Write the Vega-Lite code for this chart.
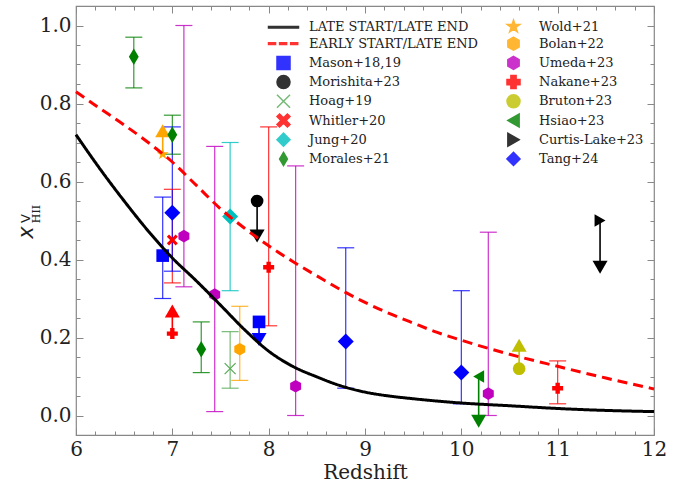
{
  "$schema": "https://vega.github.io/schema/vega-lite/v6.json",
  "width": 578,
  "height": 429,
  "autosize": {"type": "none"},
  "padding": {"left": 76, "top": 6, "right": 26, "bottom": 48},
  "background": "white",
  "config": {
    "view": {"stroke": "#888888", "strokeWidth": 1.2},
    "axis": {"grid": false, "domain": false, "tickColor": "#888888", "tickWidth": 1, "labelFont": "DejaVu Serif", "labelFontSize": 20, "labelColor": "#222222", "titleFont": "DejaVu Serif", "titleFontSize": 20, "titleColor": "#222222", "titleFontWeight": "normal", "labelFlush": false, "labelOverlap": false}
  },
  "datasets": {
    "curves": [
      {"series": "LATE START/LATE END", "z": 6.0, "xHII": 0.72},
      {"series": "LATE START/LATE END", "z": 6.25, "xHII": 0.632},
      {"series": "LATE START/LATE END", "z": 6.5, "xHII": 0.55},
      {"series": "LATE START/LATE END", "z": 6.75, "xHII": 0.473},
      {"series": "LATE START/LATE END", "z": 7.0, "xHII": 0.404},
      {"series": "LATE START/LATE END", "z": 7.25, "xHII": 0.345},
      {"series": "LATE START/LATE END", "z": 7.5, "xHII": 0.283},
      {"series": "LATE START/LATE END", "z": 7.75, "xHII": 0.22},
      {"series": "LATE START/LATE END", "z": 8.0, "xHII": 0.165},
      {"series": "LATE START/LATE END", "z": 8.25, "xHII": 0.126},
      {"series": "LATE START/LATE END", "z": 8.5, "xHII": 0.099},
      {"series": "LATE START/LATE END", "z": 8.75, "xHII": 0.076},
      {"series": "LATE START/LATE END", "z": 9.0, "xHII": 0.06},
      {"series": "LATE START/LATE END", "z": 9.25, "xHII": 0.05},
      {"series": "LATE START/LATE END", "z": 9.5, "xHII": 0.043},
      {"series": "LATE START/LATE END", "z": 9.75, "xHII": 0.037},
      {"series": "LATE START/LATE END", "z": 10.0, "xHII": 0.032},
      {"series": "LATE START/LATE END", "z": 10.5, "xHII": 0.025},
      {"series": "LATE START/LATE END", "z": 11.0, "xHII": 0.018},
      {"series": "LATE START/LATE END", "z": 11.5, "xHII": 0.013},
      {"series": "LATE START/LATE END", "z": 12.0, "xHII": 0.01},
      {"series": "EARLY START/LATE END", "z": 6.0, "xHII": 0.83},
      {"series": "EARLY START/LATE END", "z": 6.25, "xHII": 0.787},
      {"series": "EARLY START/LATE END", "z": 6.5, "xHII": 0.745},
      {"series": "EARLY START/LATE END", "z": 6.75, "xHII": 0.7},
      {"series": "EARLY START/LATE END", "z": 7.0, "xHII": 0.65},
      {"series": "EARLY START/LATE END", "z": 7.25, "xHII": 0.59},
      {"series": "EARLY START/LATE END", "z": 7.5, "xHII": 0.53},
      {"series": "EARLY START/LATE END", "z": 7.75, "xHII": 0.48},
      {"series": "EARLY START/LATE END", "z": 8.0, "xHII": 0.435},
      {"series": "EARLY START/LATE END", "z": 8.25, "xHII": 0.395},
      {"series": "EARLY START/LATE END", "z": 8.5, "xHII": 0.358},
      {"series": "EARLY START/LATE END", "z": 8.75, "xHII": 0.322},
      {"series": "EARLY START/LATE END", "z": 9.0, "xHII": 0.29},
      {"series": "EARLY START/LATE END", "z": 9.25, "xHII": 0.262},
      {"series": "EARLY START/LATE END", "z": 9.5, "xHII": 0.237},
      {"series": "EARLY START/LATE END", "z": 9.75, "xHII": 0.213},
      {"series": "EARLY START/LATE END", "z": 10.0, "xHII": 0.193},
      {"series": "EARLY START/LATE END", "z": 10.5, "xHII": 0.157},
      {"series": "EARLY START/LATE END", "z": 11.0, "xHII": 0.126},
      {"series": "EARLY START/LATE END", "z": 11.5, "xHII": 0.096},
      {"series": "EARLY START/LATE END", "z": 12.0, "xHII": 0.068}
    ],
    "obs": [
      {"series": "Mason+18,19", "z": 6.9, "xHII": 0.41, "lo": 0.30, "hi": 0.56, "tip": null},
      {"series": "Mason+18,19", "z": 7.9, "xHII": 0.24, "lo": null, "hi": null, "tip": 0.195},
      {"series": "Morishita+23", "z": 7.88, "xHII": 0.55, "lo": null, "hi": null, "tip": 0.46},
      {"series": "Hoag+19", "z": 7.6, "xHII": 0.12, "lo": 0.07, "hi": 0.215, "tip": null},
      {"series": "Whitler+20", "z": 7.0, "xHII": 0.45, "lo": 0.34, "hi": 0.58, "tip": null},
      {"series": "Jung+20", "z": 7.6, "xHII": 0.51, "lo": 0.32, "hi": 0.70, "tip": null},
      {"series": "Morales+21", "z": 6.6, "xHII": 0.92, "lo": 0.84, "hi": 0.97, "tip": null},
      {"series": "Morales+21", "z": 7.0, "xHII": 0.72, "lo": 0.67, "hi": 0.77, "tip": null},
      {"series": "Morales+21", "z": 7.3, "xHII": 0.17, "lo": 0.11, "hi": 0.24, "tip": null},
      {"series": "Wold+21", "z": 6.9, "xHII": 0.67, "lo": null, "hi": null, "tip": 0.73},
      {"series": "Bolan+22", "z": 7.7, "xHII": 0.17, "lo": 0.09, "hi": 0.28, "tip": null},
      {"series": "Umeda+23", "z": 7.12, "xHII": 0.46, "lo": 0.33, "hi": 1.0, "tip": null},
      {"series": "Umeda+23", "z": 7.44, "xHII": 0.31, "lo": 0.01, "hi": 0.69, "tip": null},
      {"series": "Umeda+23", "z": 8.28, "xHII": 0.075, "lo": 0.0, "hi": 0.64, "tip": null},
      {"series": "Umeda+23", "z": 10.28, "xHII": 0.056, "lo": 0.0, "hi": 0.47, "tip": null},
      {"series": "Nakane+23", "z": 7.0, "xHII": 0.21, "lo": null, "hi": null, "tip": 0.268},
      {"series": "Nakane+23", "z": 8.0, "xHII": 0.38, "lo": 0.23, "hi": 0.74, "tip": null},
      {"series": "Nakane+23", "z": 11.0, "xHII": 0.07, "lo": 0.03, "hi": 0.14, "tip": null},
      {"series": "Bruton+23", "z": 10.6, "xHII": 0.12, "lo": null, "hi": null, "tip": 0.18},
      {"series": "Hsiao+23", "z": 10.18, "xHII": 0.10, "lo": null, "hi": null, "tip": -0.015},
      {"series": "Curtis-Lake+23", "z": 11.44, "xHII": 0.50, "lo": null, "hi": null, "tip": 0.38},
      {"series": "Tang+24", "z": 7.0, "xHII": 0.52, "lo": 0.37, "hi": 0.74, "tip": null},
      {"series": "Tang+24", "z": 8.8, "xHII": 0.19, "lo": 0.07, "hi": 0.43, "tip": null},
      {"series": "Tang+24", "z": 10.0, "xHII": 0.11, "lo": 0.03, "hi": 0.32, "tip": null}
    ]
  },
  "resolve": {"axis": {"x": "independent", "y": "independent"}},
  "layer": [
    {
      "data": {"name": "obs"},
      "transform": [{"filter": "datum.hi != null"}],
      "mark": {"type": "rule", "strokeWidth": 1.2, "opacity": 0.8},
      "encoding": {
        "x": {"field": "z", "type": "quantitative", "scale": {"domain": [6, 12], "nice": false, "zero": false},
              "axis": {"orient": "bottom", "values": [6, 7, 8, 9, 10, 11, 12], "format": "d", "tickSize": -7, "labelPadding": 11, "title": "Redshift", "titleFontSize": 20, "titleBaseline": "alphabetic", "titleY": 43}},
        "y": {"field": "lo", "type": "quantitative", "scale": {"domain": [-0.05, 1.05], "nice": false, "zero": false},
              "axis": {"orient": "left", "values": [0, 0.2, 0.4, 0.6, 0.8, 1.0], "format": ".1f", "tickSize": -7, "labelPadding": 12,
                       "title": "x", "titleFont": "DejaVu Sans", "titleFontStyle": "italic", "titleFontSize": 21, "titleX": -49.5, "titleY": 226, "titleAngle": -90, "titleAlign": "center", "titleBaseline": "middle"}},
        "y2": {"field": "hi"},
        "color": {"field": "series", "type": "nominal",
                  "scale": {"domain": ["LATE START/LATE END", "EARLY START/LATE END", "Mason+18,19", "Morishita+23", "Hoag+19", "Whitler+20", "Jung+20", "Morales+21", "Wold+21", "Bolan+22", "Umeda+23", "Nakane+23", "Bruton+23", "Hsiao+23", "Curtis-Lake+23", "Tang+24"],
                            "range": ["#000000", "#ff0000", "#0000ff", "#000000", "#55aa55", "#ff0000", "#00bfbf", "#008000", "#ffa500", "#ffa500", "#bf00bf", "#ff0000", "#bfbf00", "#008000", "#000000", "#0000ff"]},
                  "legend": {"orient": "none", "legendX": 200, "legendY": 13, "columns": 2, "columnPadding": 25, "rowPadding": -1.8, "title": null,
                             "labelFont": "DejaVu Serif", "labelFontSize": 13, "labelColor": "#222222", "labelOffset": 18, "symbolSize": 170, "padding": 0, "labelLimit": 300}}
      }
    },
    {
      "data": {"name": "obs"},
      "transform": [{"filter": "datum.hi != null"}],
      "mark": {"type": "tick", "orient": "horizontal", "size": 17, "thickness": 1.2, "opacity": 0.8},
      "encoding": {
        "x": {"field": "z", "type": "quantitative", "scale": {"domain": [6, 12], "nice": false, "zero": false},
              "axis": {"orient": "bottom", "values": [6.2, 6.4, 6.6, 6.8, 7.2, 7.4, 7.6, 7.8, 8.2, 8.4, 8.6, 8.8, 9.2, 9.4, 9.6, 9.8, 10.2, 10.4, 10.6, 10.8, 11.2, 11.4, 11.6, 11.8], "tickSize": -4, "labels": false, "title": null}},
        "y": {"field": "lo", "type": "quantitative", "scale": {"domain": [-0.05, 1.05], "nice": false, "zero": false},
              "axis": {"orient": "left", "values": [0.05, 0.1, 0.15, 0.25, 0.3, 0.35, 0.45, 0.5, 0.55, 0.65, 0.7, 0.75, 0.85, 0.9, 0.95], "tickSize": -4, "labels": false,
                       "title": "V", "titleFont": "DejaVu Sans", "titleFontSize": 13, "titleX": -51, "titleY": 212, "titleAngle": -90, "titleAlign": "center", "titleBaseline": "middle"}},
        "color": {"field": "series", "type": "nominal"}
      }
    },
    {
      "data": {"name": "obs"},
      "transform": [{"filter": "datum.hi != null"}],
      "mark": {"type": "tick", "orient": "horizontal", "size": 17, "thickness": 1.2, "opacity": 0.8},
      "encoding": {
        "x": {"field": "z", "type": "quantitative", "scale": {"domain": [6, 12], "nice": false, "zero": false},
              "axis": {"orient": "top", "values": [6, 7, 8, 9, 10, 11, 12], "tickSize": -7, "labels": false, "title": null}},
        "y": {"field": "hi", "type": "quantitative", "scale": {"domain": [-0.05, 1.05], "nice": false, "zero": false},
              "axis": {"orient": "right", "values": [0, 0.2, 0.4, 0.6, 0.8, 1.0], "tickSize": -7, "labels": false, "title": null}},
        "color": {"field": "series", "type": "nominal"}
      }
    },
    {
      "data": {"name": "obs"},
      "transform": [{"filter": "datum.tip != null"}],
      "mark": {"type": "rule", "strokeWidth": 1.6},
      "encoding": {
        "x": {"field": "z", "type": "quantitative", "scale": {"domain": [6, 12], "nice": false, "zero": false},
              "axis": {"orient": "top", "values": [6.2, 6.4, 6.6, 6.8, 7.2, 7.4, 7.6, 7.8, 8.2, 8.4, 8.6, 8.8, 9.2, 9.4, 9.6, 9.8, 10.2, 10.4, 10.6, 10.8, 11.2, 11.4, 11.6, 11.8], "tickSize": -4, "labels": false, "title": null}},
        "y": {"field": "xHII", "type": "quantitative", "scale": {"domain": [-0.05, 1.05], "nice": false, "zero": false},
              "axis": {"orient": "right", "values": [0.05, 0.1, 0.15, 0.25, 0.3, 0.35, 0.45, 0.5, 0.55, 0.65, 0.7, 0.75, 0.85, 0.9, 0.95], "tickSize": -4, "labels": false, "title": null}},
        "y2": {"field": "tip"},
        "color": {"field": "series", "type": "nominal"}
      }
    },
    {
      "data": {"name": "obs"},
      "transform": [{"filter": "datum.tip != null && datum.tip > datum.xHII"}],
      "mark": {"type": "point", "shape": "triangle-up", "filled": true, "opacity": 1, "size": 225, "strokeWidth": 0},
      "encoding": {
        "x": {"field": "z", "type": "quantitative", "scale": {"domain": [6, 12], "nice": false, "zero": false}, "axis": null},
        "y": {"field": "tip", "type": "quantitative", "scale": {"domain": [-0.05, 1.05], "nice": false, "zero": false},
              "axis": {"orient": "left", "ticks": false, "labels": false, "title": "HII", "titleFont": "DejaVu Serif", "titleFontSize": 11, "titleX": -40, "titleY": 207.5, "titleAngle": -90, "titleAlign": "center", "titleBaseline": "middle"}},
        "color": {"field": "series", "type": "nominal"}
      }
    },
    {
      "data": {"name": "obs"},
      "transform": [{"filter": "datum.tip != null && datum.tip < datum.xHII"}],
      "mark": {"type": "point", "shape": "triangle-down", "filled": true, "opacity": 1, "size": 225, "strokeWidth": 0},
      "encoding": {
        "x": {"field": "z", "type": "quantitative", "scale": {"domain": [6, 12], "nice": false, "zero": false}, "axis": null},
        "y": {"field": "tip", "type": "quantitative", "scale": {"domain": [-0.05, 1.05], "nice": false, "zero": false}, "axis": null},
        "color": {"field": "series", "type": "nominal"}
      }
    },
    {
      "data": {"name": "obs"},
      "transform": [{"filter": "indexof(['Tang+24', 'Jung+20'], datum.series) >= 0"}],
      "mark": {"type": "point", "filled": true, "opacity": 1, "size": 256, "strokeWidth": 0},
      "encoding": {
        "x": {"field": "z", "type": "quantitative", "scale": {"domain": [6, 12], "nice": false, "zero": false}, "axis": null},
        "y": {"field": "xHII", "type": "quantitative", "scale": {"domain": [-0.05, 1.05], "nice": false, "zero": false}, "axis": null},
        "color": {"field": "series", "type": "nominal"},
        "shape": {"field": "series", "type": "nominal", "legend": null,
                  "scale": {"domain": ["LATE START/LATE END", "EARLY START/LATE END", "Mason+18,19", "Morishita+23", "Hoag+19", "Whitler+20", "Jung+20", "Morales+21", "Wold+21", "Bolan+22", "Umeda+23", "Nakane+23", "Bruton+23", "Hsiao+23", "Curtis-Lake+23", "Tang+24"],
                            "range": ["M-2.3,-0.13L2.3,-0.13L2.3,0.13L-2.3,0.13Z", "M-2.3,-0.13L-1.22,-0.13L-1.22,0.13L-2.3,0.13ZM-0.6,-0.13L0.48,-0.13L0.48,0.13L-0.6,0.13ZM1.1,-0.13L2.18,-0.13L2.18,0.13L1.1,0.13Z", "square", "circle", "M-1,-1L1,1M-1,1L1,-1", "M-1,-0.6L-0.6,-1L0,-0.4L0.6,-1L1,-0.6L0.4,0L1,0.6L0.6,1L0,0.4L-0.6,1L-1,0.6L-0.4,0Z", "diamond", "M0,-1L0.6,0L0,1L-0.6,0Z", "M0,-1L0.225,-0.309L0.951,-0.309L0.363,0.118L0.588,0.809L0,0.382L-0.588,0.809L-0.363,0.118L-0.951,-0.309L-0.225,-0.309Z", "M0,-1L0.866,-0.5L0.866,0.5L0,1L-0.866,0.5L-0.866,-0.5Z", "M0,-1L0.866,-0.5L0.866,0.5L0,1L-0.866,0.5L-0.866,-0.5Z", "cross", "circle", "triangle-left", "triangle-right", "diamond"]}}
      }
    },
    {
      "data": {"name": "obs"},
      "transform": [{"filter": "datum.series === 'Morales+21'"}],
      "mark": {"type": "point", "filled": true, "opacity": 1, "size": 270, "strokeWidth": 0},
      "encoding": {
        "x": {"field": "z", "type": "quantitative", "scale": {"domain": [6, 12], "nice": false, "zero": false}, "axis": null},
        "y": {"field": "xHII", "type": "quantitative", "scale": {"domain": [-0.05, 1.05], "nice": false, "zero": false}, "axis": null},
        "color": {"field": "series", "type": "nominal"},
        "shape": {"field": "series", "type": "nominal", "legend": null}
      }
    },
    {
      "data": {"name": "obs"},
      "transform": [{"filter": "indexof(['Mason+18,19', 'Wold+21', 'Morishita+23', 'Umeda+23', 'Bolan+22', 'Bruton+23', 'Hsiao+23', 'Curtis-Lake+23'], datum.series) >= 0"}],
      "mark": {"type": "point", "filled": true, "opacity": 1, "size": 160, "strokeWidth": 0},
      "encoding": {
        "x": {"field": "z", "type": "quantitative", "scale": {"domain": [6, 12], "nice": false, "zero": false}, "axis": null},
        "y": {"field": "xHII", "type": "quantitative", "scale": {"domain": [-0.05, 1.05], "nice": false, "zero": false}, "axis": null},
        "color": {"field": "series", "type": "nominal"},
        "shape": {"field": "series", "type": "nominal", "legend": null}
      }
    },
    {
      "data": {"name": "obs"},
      "transform": [{"filter": "indexof(['Nakane+23', 'Whitler+20'], datum.series) >= 0"}],
      "mark": {"type": "point", "filled": true, "opacity": 1, "size": 121, "strokeWidth": 0},
      "encoding": {
        "x": {"field": "z", "type": "quantitative", "scale": {"domain": [6, 12], "nice": false, "zero": false}, "axis": null},
        "y": {"field": "xHII", "type": "quantitative", "scale": {"domain": [-0.05, 1.05], "nice": false, "zero": false}, "axis": null},
        "color": {"field": "series", "type": "nominal"},
        "shape": {"field": "series", "type": "nominal", "legend": null}
      }
    },
    {
      "data": {"name": "obs"},
      "transform": [{"filter": "datum.series === 'Hoag+19'"}],
      "mark": {"type": "point", "filled": false, "opacity": 1, "size": 121, "strokeWidth": 1.2},
      "encoding": {
        "x": {"field": "z", "type": "quantitative", "scale": {"domain": [6, 12], "nice": false, "zero": false}, "axis": null},
        "y": {"field": "xHII", "type": "quantitative", "scale": {"domain": [-0.05, 1.05], "nice": false, "zero": false}, "axis": null},
        "color": {"field": "series", "type": "nominal"},
        "shape": {"field": "series", "type": "nominal", "legend": null}
      }
    },
    {
      "data": {"name": "curves"},
      "mark": {"type": "line", "strokeWidth": 3, "interpolate": "monotone"},
      "encoding": {
        "x": {"field": "z", "type": "quantitative", "scale": {"domain": [6, 12], "nice": false, "zero": false}, "axis": null},
        "y": {"field": "xHII", "type": "quantitative", "scale": {"domain": [-0.05, 1.05], "nice": false, "zero": false}, "axis": null},
        "color": {"field": "series", "type": "nominal"},
        "strokeDash": {"field": "series", "type": "nominal", "legend": null,
                       "scale": {"domain": ["LATE START/LATE END", "EARLY START/LATE END"], "range": [[1, 0], [10, 6]]}}
      }
    }
  ]
}
